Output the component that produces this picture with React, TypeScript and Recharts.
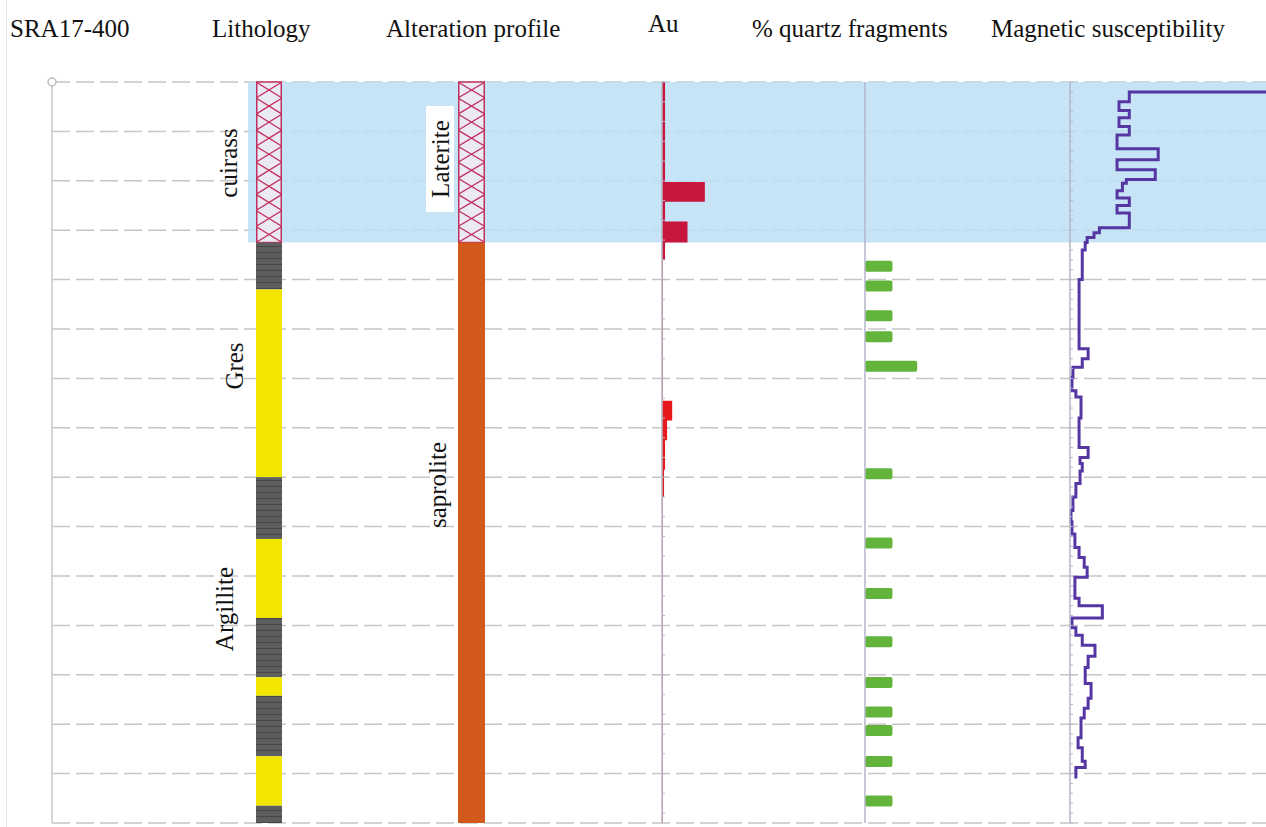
import React from "react";
import {
  BarChart,
  Bar,
  ComposedChart,
  Area,
  Line,
  XAxis,
  YAxis,
  CartesianGrid,
  ReferenceArea,
  ReferenceDot,
} from "recharts";

const WIDTH = 1266;
const HEIGHT = 827;
const MAX_DEPTH = 30;
const margin = { top: 82, right: 0, bottom: 4, left: 0 };
// track charts keep a small left gutter (1px margin + 1px axis) so the axis line is not cut by the svg edge
const GUTTER = 2;
const trackMargin = { ...margin, left: GUTTER - 1 };

// depth grid (m)
const depthTicks = [0, 2, 4, 6, 8, 10, 12, 14, 16, 18, 20, 22, 24, 26, 28, 30];
// minor tick marks along the Au and susceptibility axes
const auTicks = Array.from({ length: 38 }, (_, i) => i * 0.8);
const magTicks = Array.from({ length: 76 }, (_, i) => i * 0.4);

// lithology: interval boundaries (m) and rock type of each interval
const lithoBounds = [0, 6.5, 8.4, 16.0, 18.5, 21.7, 24.1, 24.85, 27.3, 29.3, 30];
const lithoTypes = ["cuirass", "argillite", "gres", "argillite", "gres", "argillite", "gres", "argillite", "gres", "argillite"];

// alteration profile
const alterationBounds = [0, 6.5, 30];
const alterationTypes = ["laterite", "saprolite"];

// Au (ppm), each value holds from its depth down to the next depth
const auDepths = [0, 4.05, 4.85, 5.65, 6.5, 7.2, 12.9, 13.7, 14.5, 15.7, 16.8, 30];
const auCuirass = [0.015, 0.21, 0.015, 0.125, 0.015, 0.015, null, null, null, null, null, null];
const auSaprolite = [null, null, null, null, null, 0.004, 0.05, 0.025, 0.015, 0.01, 0.003, 0.003];

// % quartz fragments
const quartzDepths = [7.45, 8.25, 9.45, 10.3, 11.5, 15.85, 18.65, 20.7, 22.65, 24.3, 25.5, 26.25, 27.5, 29.1];
const quartzPct = [10, 10, 10, 10, 19, 10, 10, 10, 10, 10, 10, 10, 10, 10];

// magnetic susceptibility (10^-3 SI), step log
const magDepths = [
  0.4, 0.4, 0.8, 1.15, 1.45, 1.8, 2.15, 2.7, 3.15, 3.55,
  3.95, 4.1, 4.4, 4.7, 5.0, 5.3, 5.9, 6.1, 6.3, 6.5,
  6.8, 8.0, 10.8, 11.2, 11.55, 11.95, 12.5, 12.75, 13.6, 14.8,
  15.2, 15.45, 15.75, 16.25, 16.8, 17.35, 17.8, 18.3, 18.85, 19.25,
  19.65, 20.05, 20.9, 21.2, 21.7, 22.1, 22.4, 22.8, 23.25, 23.7,
  24.35, 24.95, 25.35, 25.75, 26.55, 26.95, 27.5, 27.75, 28.2,
];
const magValues = [
  40, 12.1, 10.0, 12.1, 10.0, 12.1, 9.6, 18.0, 9.6, 17.4,
  11.5, 10.7, 9.6, 12.1, 9.6, 12.1, 6.0, 4.9, 3.5, 3.1,
  2.5, 1.85, 3.7, 2.5, 0.6, 0.4, 1.2, 2.25, 1.85, 3.7,
  2.05, 2.5, 2.05, 1.2, 0.6, 0.2, 0.4, 1.0, 1.85, 2.9,
  3.5, 1.0, 1.85, 6.6, 0.4, 1.2, 2.5, 5.1, 3.7, 3.1,
  4.3, 3.7, 2.9, 2.25, 1.65, 2.5, 3.1, 1.2, 1.2,
];

const headers = [
  { text: "SRA17-400", x: 10, y: 37 },
  { text: "Lithology", x: 212, y: 37 },
  { text: "Alteration profile", x: 386, y: 37 },
  { text: "Au", x: 648, y: 32 },
  { text: "% quartz fragments", x: 752, y: 37 },
  { text: "Magnetic susceptibility", x: 991, y: 37 },
];

const sideLabels = [
  { text: "cuirass", x: 228, y: 163 },
  { text: "Gres", x: 234, y: 366 },
  { text: "Argillite", x: 224, y: 609 },
  { text: "saprolite", x: 437, y: 485 },
];

const FONT = '"Liberation Serif", "Times New Roman", serif';
const HATCH = "#c2305f";
const AXIS = "#b4b6c8";

const intervalRow = (bounds: number[]) => {
  const row: Record<string, number | string> = { name: "log" };
  for (let i = 0; i < bounds.length - 1; i++) row[`s${i}`] = bounds[i + 1] - bounds[i];
  return row;
};

const lithoRow = intervalRow(lithoBounds);
const alterationRow = intervalRow(alterationBounds);
const gridRows = depthTicks.map((depth) => ({ depth }));
const auRows = auDepths.map((depth, i) => ({ depth, cuirass: auCuirass[i], saprolite: auSaprolite[i] }));
const quartzRows = quartzDepths.map((depth, i) => ({ depth, pct: quartzPct[i] }));
const magRows = magDepths.map((depth, i) => ({ depth, v: magValues[i] }));

const FILLS: Record<string, string> = {
  argillite: "url(#shale)",
  gres: "#f2e600",
  saprolite: "#d2591b",
};

// ticks keep their lines / grid positions but draw no label
const NoLabel = () => <g />;

function LogInterval(props: any) {
  let { x, y, width, height } = props;
  const { kind } = props;
  if (height < 0) {
    y += height;
    height = -height;
  }
  if (!height) return null;
  if (kind === "cuirass" || kind === "laterite") {
    const cells = Math.max(1, Math.round(height / 16));
    const step = height / cells;
    const lines = [];
    for (let i = 0; i < cells; i++) {
      const y0 = y + i * step;
      lines.push(
        <line key={`a${i}`} x1={x} y1={y0} x2={x + width} y2={y0 + step} />,
        <line key={`b${i}`} x1={x + width} y1={y0} x2={x} y2={y0 + step} />
      );
    }
    return (
      <g>
        <rect x={x} y={y} width={width} height={height} fill="#eae9f4" />
        <g stroke={HATCH} strokeWidth={1.3}>{lines}</g>
        <rect x={x + 0.75} y={y} width={width - 1.5} height={height} fill="none" stroke={HATCH} strokeWidth={1.5} />
      </g>
    );
  }
  return <rect x={x} y={y} width={width} height={height} fill={FILLS[kind]} />;
}

function IntervalColumn({ left, width, row, types }: { left: number; width: number; row: any; types: string[] }) {
  return (
    <div style={{ position: "absolute", left, top: 0 }}>
      <BarChart width={width} height={HEIGHT} data={[row]} margin={margin} barCategoryGap={0} barGap={0}>
        <XAxis type="category" dataKey="name" hide />
        <YAxis type="number" domain={[0, MAX_DEPTH]} reversed hide />
        {types.map((kind, i) => (
          <Bar
            key={i}
            dataKey={`s${i}`}
            stackId="log"
            isAnimationActive={false}
            shape={(p: any) => <LogInterval {...p} kind={kind} />}
          />
        ))}
      </BarChart>
    </div>
  );
}

function depthAxis(ticks?: number[]) {
  return (
    <YAxis
      type="number"
      dataKey="depth"
      domain={[0, MAX_DEPTH]}
      allowDataOverflow
      width={1}
      ticks={ticks}
      interval={0}
      tick={ticks ? NoLabel : false}
      tickLine={ticks ? { stroke: AXIS, strokeWidth: 1 } : false}
      tickSize={3}
      mirror
      axisLine={{ stroke: AXIS, strokeWidth: 1.5 }}
    />
  );
}

export default function App() {
  return (
    <div style={{ position: "absolute", left: 0, top: 0, width: WIDTH, height: HEIGHT, overflow: "hidden", background: "#fff" }}>
      <svg width={0} height={0} style={{ position: "absolute" }}>
        <defs>
          <pattern id="shale" width={8} height={6} patternUnits="userSpaceOnUse">
            <rect width={8} height={6} fill="#5e5e5e" />
            <line x1={0} y1={0.5} x2={8} y2={0.5} stroke="#454545" strokeWidth={1} />
          </pattern>
        </defs>
      </svg>

      {/* depth grid and left axis */}
      <div style={{ position: "absolute", left: 0, top: 0 }}>
        <ComposedChart width={WIDTH} height={HEIGHT} layout="vertical" data={gridRows} margin={{ ...margin, left: 51 }}>
          <CartesianGrid vertical={false} strokeDasharray="18 6" stroke="#c6c6c6" strokeWidth={1.5} />
          <XAxis type="number" domain={[0, 1]} allowDataOverflow hide />
          <YAxis
            type="number"
            dataKey="depth"
            domain={[0, MAX_DEPTH]}
            allowDataOverflow
            ticks={depthTicks}
            interval={0}
            width={1}
            tick={NoLabel}
            tickLine={false}
            axisLine={{ stroke: "#c8c8c8", strokeWidth: 1.5 }}
          />
          <ReferenceDot x={0} y={0} r={4} fill="#fff" stroke="#bdbdbd" strokeWidth={1.5} />
        </ComposedChart>
      </div>

      {/* laterite / cuirass zone */}
      <div style={{ position: "absolute", left: 248, top: 0 }}>
        <ComposedChart width={WIDTH - 248} height={HEIGHT} layout="vertical" data={gridRows} margin={margin}>
          <XAxis type="number" domain={[0, 1]} allowDataOverflow hide />
          <YAxis type="number" dataKey="depth" domain={[0, MAX_DEPTH]} allowDataOverflow hide />
          <ReferenceArea x1={0} x2={1} y1={0} y2={lithoBounds[1]} fill="#bcdff5" fillOpacity={0.85} stroke="none" />
        </ComposedChart>
      </div>

      <IntervalColumn left={256} width={26} row={lithoRow} types={lithoTypes} />
      <IntervalColumn left={458} width={27} row={alterationRow} types={alterationTypes} />

      {/* Au */}
      <div style={{ position: "absolute", left: 663 - GUTTER, top: 0 }}>
        <ComposedChart width={203 + GUTTER} height={HEIGHT} layout="vertical" data={auRows} margin={trackMargin}>
          <XAxis type="number" domain={[0, 1]} hide />
          {depthAxis(auTicks)}
          <Area type="stepBefore" dataKey="cuirass" fill="#c8163c" fillOpacity={1} stroke="none" isAnimationActive={false} />
          <Area type="stepBefore" dataKey="saprolite" fill="#e8191c" fillOpacity={1} stroke="none" isAnimationActive={false} />
        </ComposedChart>
      </div>

      {/* % quartz fragments */}
      <div style={{ position: "absolute", left: 866 - GUTTER, top: 0 }}>
        <ComposedChart width={205 + GUTTER} height={HEIGHT} layout="vertical" data={quartzRows} margin={trackMargin}>
          <XAxis type="number" domain={[0, 75]} hide />
          {depthAxis()}
          <Bar dataKey="pct" barSize={11} fill="#62b43a" radius={2} isAnimationActive={false} />
        </ComposedChart>
      </div>

      {/* magnetic susceptibility */}
      <div style={{ position: "absolute", left: 1071 - GUTTER, top: 0 }}>
        <ComposedChart width={WIDTH - 1071 + GUTTER} height={HEIGHT} layout="vertical" data={magRows} margin={trackMargin}>
          <XAxis type="number" domain={[0, 40]} hide />
          {depthAxis(magTicks)}
          <Line type="stepBefore" dataKey="v" stroke="#5636a3" strokeWidth={3} dot={false} isAnimationActive={false} />
        </ComposedChart>
      </div>

      {/* titles and interval names */}
      <svg width={WIDTH} height={HEIGHT} style={{ position: "absolute", left: 0, top: 0, pointerEvents: "none" }}>
        <line x1={6.5} y1={0} x2={6.5} y2={HEIGHT} stroke="#e4e4e4" strokeWidth={1} />
        {headers.map((h) => (
          <text key={h.text} x={h.x} y={h.y} fontFamily={FONT} fontSize={25} fill="#111">
            {h.text}
          </text>
        ))}
        {sideLabels.map((l) => (
          <text
            key={l.text}
            x={l.x}
            y={l.y}
            transform={`rotate(-90 ${l.x} ${l.y})`}
            textAnchor="middle"
            dominantBaseline="central"
            fontFamily={FONT}
            fontSize={25}
            fill="#111"
          >
            {l.text}
          </text>
        ))}
        <rect x={426} y={106} width={28} height={106} fill="#fff" />
        <text
          x={440}
          y={159}
          transform="rotate(-90 440 159)"
          textAnchor="middle"
          dominantBaseline="central"
          fontFamily={FONT}
          fontSize={25}
          fill="#111"
        >
          Laterite
        </text>
      </svg>
    </div>
  );
}
